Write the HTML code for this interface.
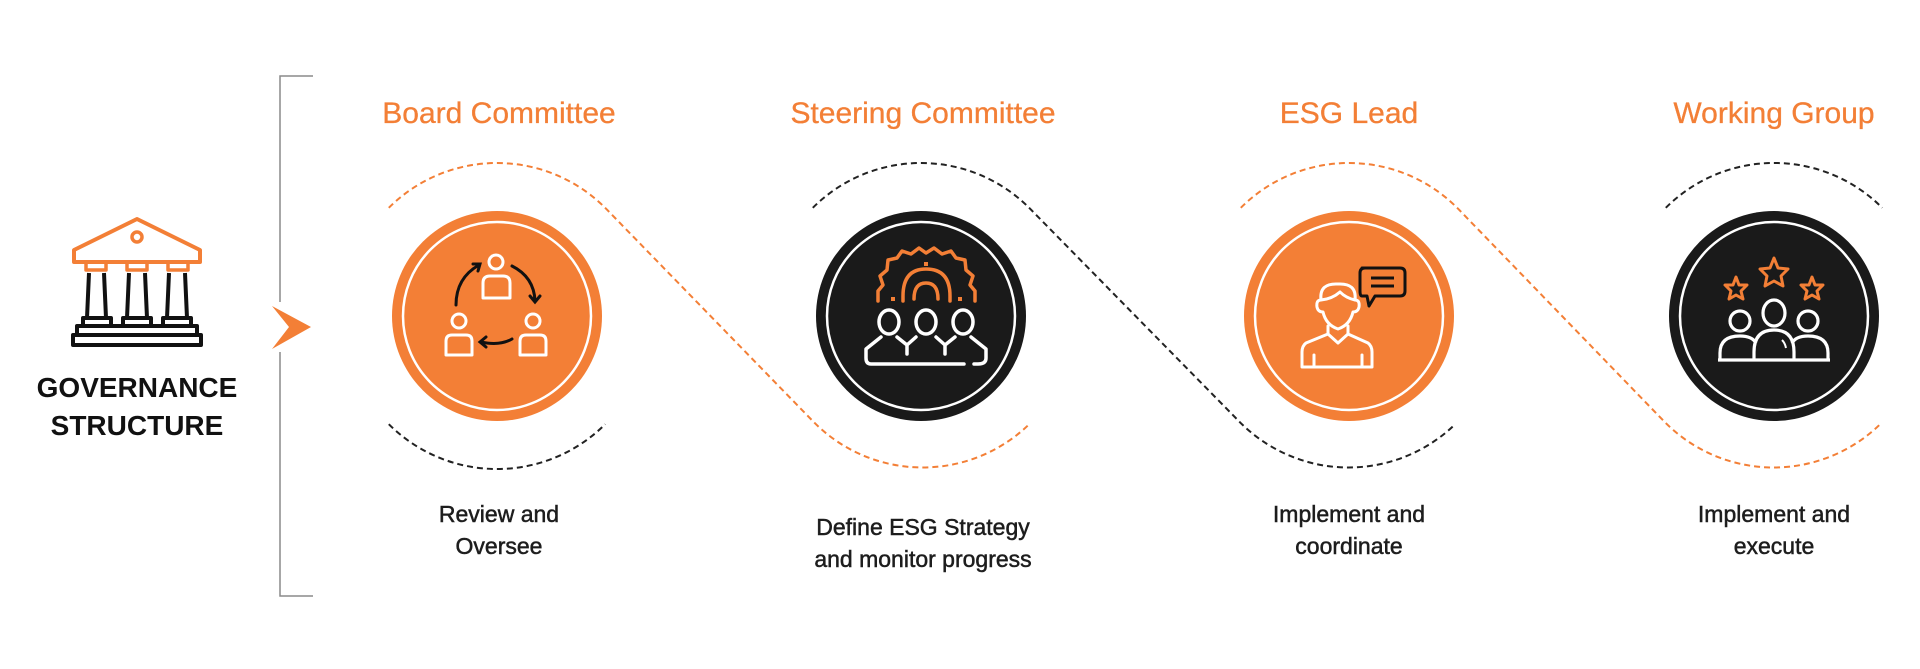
<!DOCTYPE html>
<html><head><meta charset="utf-8"><style>
html,body{margin:0;padding:0;background:#fff;}
body{width:1920px;height:669px;overflow:hidden;position:relative;font-family:"Liberation Sans",sans-serif;}
.t{position:absolute;color:#F37F36;font-size:30px;text-align:center;width:400px;line-height:1;-webkit-text-stroke:0.3px #F37F36;}
.c{position:absolute;color:#1d1d1d;font-size:23px;text-align:center;width:400px;line-height:32px;-webkit-text-stroke:0.5px #1d1d1d;}
.g{position:absolute;left:7px;width:260px;text-align:center;font-weight:bold;font-size:28px;line-height:38px;color:#111;top:369px;}
</style></head><body>
<svg width="1920" height="669" style="position:absolute;left:0;top:0">
<g stroke="#8a8a8a" stroke-width="1.5" fill="none">
<path d="M313 76 H280 V302 M280 352 V596 H313"/>
</g>
<polygon points="272,306 311,327 272,349 289,327" fill="#F37F36"/>
<g fill="none" stroke-linejoin="round">
<path d="M74 262 V250 L137 219 L200 250 V262 Z" stroke="#F37F36" stroke-width="4"/>
<circle cx="137" cy="237" r="5" stroke="#F37F36" stroke-width="3.5"/>
<rect x="86" y="262" width="20" height="8" stroke="#F37F36" stroke-width="3.5"/>
<rect x="127" y="262" width="20" height="8" stroke="#F37F36" stroke-width="3.5"/>
<rect x="168" y="262" width="20" height="8" stroke="#F37F36" stroke-width="3.5"/>
<g stroke="#111" stroke-width="4">
<path d="M89 273 L87 318 M104 273 L106 318 M129 273 L127 318 M145 273 L147 318 M169 273 L167 318 M185 273 L187 318"/>
<rect x="83" y="318" width="28" height="8"/><rect x="123" y="318" width="28" height="8"/><rect x="163" y="318" width="28" height="8"/>
<rect x="77" y="326" width="120" height="9"/>
<rect x="73" y="335" width="128" height="10"/>
</g></g>
<g fill="none" stroke-width="2" stroke-dasharray="6 4">
<path d="M388.8 207.8 A153 153 0 0 1 607.4 210.1 L813.6 421.9 A153 153 0 0 0 1029.2 424.2" stroke="#F37F36"/>
<path d="M812.8 207.8 A153 153 0 0 1 1031.4 210.1 L1239.6 421.9 A153 153 0 0 0 1455.2 424.2" stroke="#222"/>
<path d="M1240.8 207.8 A153 153 0 0 1 1459.4 210.1 L1664.6 421.9 A153 153 0 0 0 1880.2 424.2" stroke="#F37F36"/>
<path d="M388.8 424.2 A153 153 0 0 0 605.2 424.2" stroke="#222"/>
<path d="M1665.8 207.8 A153 153 0 0 1 1882.2 207.8" stroke="#222"/>
</g>
<circle cx="497" cy="316" r="105" fill="#F37F36"/><circle cx="497" cy="316" r="94" fill="none" stroke="#fff" stroke-width="2.5"/>
<circle cx="921" cy="316" r="105" fill="#1a1a1a"/><circle cx="921" cy="316" r="94" fill="none" stroke="#fff" stroke-width="2.5"/>
<circle cx="1349" cy="316" r="105" fill="#F37F36"/><circle cx="1349" cy="316" r="94" fill="none" stroke="#fff" stroke-width="2.5"/>
<circle cx="1774" cy="316" r="105" fill="#1a1a1a"/><circle cx="1774" cy="316" r="94" fill="none" stroke="#fff" stroke-width="2.5"/>
<g fill="none" stroke="#fff" stroke-width="3" stroke-linejoin="round">
<circle cx="496" cy="262" r="7"/><path d="M483 298 V283 Q483 276 490 276 H503 Q510 276 510 283 V298 Z"/>
<circle cx="459" cy="321" r="7"/><path d="M446 355 V341 Q446 335 452 335 H466 Q472 335 472 341 V355 Z"/>
<circle cx="533" cy="321" r="7"/><path d="M520 355 V341 Q520 335 526 335 H540 Q546 335 546 341 V355 Z"/>
</g>
<g fill="none" stroke="#111" stroke-width="3" stroke-linecap="round">
<path d="M456 305 Q456 278 479 265 M473 264 L480 264 L478 271"/>
<path d="M512 266 Q534 277 535 301 M530 296 L535 302 L540 296"/>
<path d="M512 339 Q500 346 481 342 M486 337 L480 342 L486 347"/>
</g>
<g fill="none" stroke="#F37F36" stroke-width="3.5" stroke-linecap="round" stroke-linejoin="round">
<path d="M878 301 V291 L883 285 L880 276 L887 270 L888 260 L897 258 L902 251 L911 254 L919 248 L926 253 L934 248 L942 254 L951 251 L956 258 L965 260 L966 270 L973 276 L970 285 L975 291 V301"/>
<path d="M903 301 V296 Q903 269 926 269 Q950 269 950 296 V301"/>
<path d="M914 299 Q914 283 926 283 Q938 283 938 299"/>
</g>
<g fill="#F37F36"><rect x="891" y="297" width="4" height="4"/><rect x="958" y="297" width="4" height="4"/><rect x="924" y="262" width="4" height="4"/></g>
<g fill="none" stroke="#fff" stroke-width="3.5" stroke-linecap="round" stroke-linejoin="round">
<ellipse cx="889" cy="322" rx="10" ry="12"/><ellipse cx="926" cy="322" rx="10" ry="12"/><ellipse cx="963" cy="322" rx="10" ry="12"/>
<path d="M964 364 H871 Q866 364 866 358 V349 L881 337 M897 337 L907 345 L916 337 M936 337 L945 345 L955 337 M971 337 L986 349 V358 Q986 364 978 364 H974 M907 345 V354 M945 345 V354"/>
</g>
<g fill="none" stroke="#fff" stroke-width="3" stroke-linejoin="round" stroke-linecap="round">
<path d="M1321 300 Q1316 300 1317 307 Q1318 312 1323 312 Q1326 325 1338 329 Q1350 325 1353 312 Q1358 312 1359 307 Q1360 300 1355 300 M1321 300 Q1319 283 1338 284 Q1357 283 1355 300 Q1346 298 1340 292 Q1332 299 1321 300"/>
<path d="M1328 326 V334 L1306 343 Q1302 346 1302 352 V367 H1372 V352 Q1372 346 1368 343 L1348 334 V326 M1328 334 L1338 343 L1348 334 M1314 355 V367 M1362 355 V367"/>
</g>
<g fill="#F37F36" stroke="#111" stroke-width="3" stroke-linejoin="round">
<path d="M1362 268 H1400 Q1405 268 1405 273 V291 Q1405 296 1400 296 H1375 L1369 306 L1367 296 H1362 Q1360 296 1360 291 V273 Q1360 268 1365 268 Z"/>
<path d="M1371 278 H1394 M1371 286 H1394" fill="none"/>
</g>
<g fill="none" stroke="#F37F36" stroke-width="3" stroke-linejoin="round">
<path d="M1774 258 L1778 268 L1788 269 L1781 276 L1783 286 L1774 281 L1765 286 L1767 276 L1760 269 L1770 268 Z"/>
<path d="M1736 277 L1739 285 L1747 285 L1741 291 L1743 299 L1736 295 L1729 299 L1731 291 L1725 285 L1733 285 Z"/>
<path d="M1812 277 L1815 285 L1823 285 L1817 291 L1819 299 L1812 295 L1805 299 L1807 291 L1801 285 L1809 285 Z"/>
</g>
<g fill="none" stroke="#fff" stroke-width="3.2" stroke-linejoin="round">
<ellipse cx="1774" cy="313" rx="11" ry="13"/>
<circle cx="1740" cy="321" r="10"/><circle cx="1808" cy="321" r="10"/>
<path d="M1720 359 V353 Q1720 336 1740 336 Q1752 336 1756 343 M1828 359 V353 Q1828 336 1808 336 Q1796 336 1792 343"/>
<path d="M1754 360 V352 Q1754 330 1774 330 Q1794 330 1794 352 V360 M1718 360 H1830"/>
<path d="M1782 340 Q1785 343 1786 348" stroke-width="2"/>
</g>
</svg>
<div class="g">GOVERNANCE<br>STRUCTURE</div>
<div class="t" style="left:299px;top:99px">Board Committee</div>
<div class="t" style="left:723px;top:99px">Steering Committee</div>
<div class="t" style="left:1149px;top:99px">ESG Lead</div>
<div class="t" style="left:1574px;top:99px">Working Group</div>
<div class="c" style="left:299px;top:498px">Review and<br>Oversee</div>
<div class="c" style="left:723px;top:511px">Define ESG Strategy<br>and monitor progress</div>
<div class="c" style="left:1149px;top:498px">Implement and<br>coordinate</div>
<div class="c" style="left:1574px;top:498px">Implement and<br>execute</div>
</body></html>
